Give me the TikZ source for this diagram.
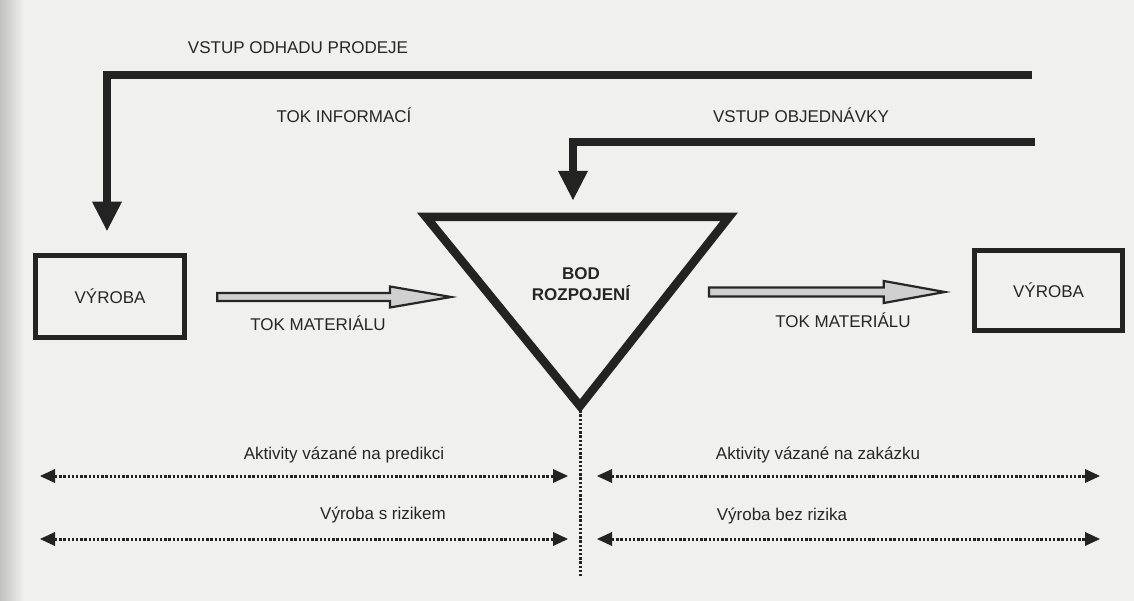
\documentclass[tikz,border=0pt]{standalone}
\usepackage{fontspec}
\setmainfont{Liberation Sans}
\usetikzlibrary{arrows.meta,calc}
\definecolor{paper}{HTML}{F0F0EE}
\definecolor{ink}{HTML}{232323}
\definecolor{txt}{HTML}{262626}
\definecolor{fatfill}{HTML}{D0D0D0}

% wide hollow material-flow arrow: start, tip, shaft half-height, head half-height
\newcommand{\matflow}[4]{%
  \draw[fatarrow] ($(#1)+(0,-#3)$) -- ($(#2)+(-61,-#3)$) -- ($(#2)+(-61,-#4)$)
    -- (#2) -- ($(#2)+(-61,#4)$) -- ($(#2)+(-61,#3)$) -- ($(#1)+(0,#3)$) -- cycle;}

\begin{document}
\begin{tikzpicture}[x=1pt,y=-1pt,
  lbl/.style={text=txt,font=\fontsize{17}{20}\selectfont,inner sep=0pt},
  boldlbl/.style={text=txt,font=\bfseries\fontsize{17}{21}\selectfont,inner sep=0pt,align=center},
  infoline/.style={draw=ink,line width=8pt,line join=miter,
    -{Triangle[length=29pt,width=30pt,line width=0pt]}},
  prodbox/.style={draw=ink,line width=5.5pt,inner sep=0pt,text=txt,
    font=\fontsize{17}{20}\selectfont},
  splitpt/.style={draw=ink,line width=8.5pt,line join=miter},
  fatarrow/.style={draw=txt,line width=2.2pt,fill=fatfill,line join=miter},
  dotline/.style={draw=ink,line width=3pt,dash pattern=on 2.4pt off 1.8pt},
  span/.style={dotline,{Triangle[length=15pt,width=14pt,line width=0pt]}-{Triangle[length=15pt,width=14pt,line width=0pt]}}]

\useasboundingbox (0,0) rectangle (1134,601);
\fill[paper] (0,0) rectangle (1134,601);
\shade[left color=black!24,right color=paper] (0,0) rectangle (24,601);

% production blocks
\node[prodbox,minimum width=149pt,minimum height=82pt] (vyrL) at (110,296.5) {VÝROBA};
\node[prodbox,minimum width=148pt,minimum height=80pt] (vyrR) at (1048.5,290.5) {VÝROBA};

% decoupling point
\coordinate (tl) at (426,217);
\coordinate (tr) at (729,217);
\coordinate (tb) at (580,406);
\draw[splitpt] (tl) -- (tr) -- (tb) -- cycle;
\node[boldlbl] (bod) at (581,284) {BOD\\ROZPOJENÍ};

% information flows
\coordinate (odhadR) at (1032,75);
\coordinate (odhadL) at ($(vyrL.north)+(-3,-22)$);
\draw[infoline] (odhadR) -| (odhadL);
\coordinate (objR) at (1035,142);
\coordinate (objL) at (573,200);
\draw[infoline] (objR) -| (objL);

\node[lbl] (odhad) at (298,48) {VSTUP ODHADU PRODEJE};
\node[lbl] (tokinf) at (344,115) {TOK INFORMACÍ};
\node[lbl] (objed) at (801,115) {VSTUP OBJEDNÁVKY};

% material flows
\coordinate (m1s) at ($(vyrL.east)+(30,0.5)$);
\coordinate (m1e) at (451,297);
\matflow{m1s}{m1e}{4}{10.5}
\coordinate (m2s) at (709,292);
\coordinate (m2e) at ($(vyrR.west)+(-27,1.5)$);
\matflow{m2s}{m2e}{4.5}{11}

\node[lbl] (tm1) at (318,323) {TOK MATERIÁLU};
\node[lbl] (tm2) at (843,320) {TOK MATERIÁLU};

% split line and activity ranges
\coordinate (splitEnd) at (580,577);
\draw[dotline] (tb) -- (splitEnd);

\coordinate (p1a) at (40,476);  \coordinate (p1b) at (568,476);
\coordinate (z1a) at (597,476); \coordinate (z1b) at (1100,476);
\coordinate (p2a) at (40,539);  \coordinate (p2b) at (568,539);
\coordinate (z2a) at (597,539); \coordinate (z2b) at (1100,539);
\draw[span] (p1a) -- (p1b);
\draw[span] (z1a) -- (z1b);
\draw[span] (p2a) -- (p2b);
\draw[span] (z2a) -- (z2b);

\node[lbl] (pred) at (344,455) {Aktivity vázané na predikci};
\node[lbl] (zak) at (818,455) {Aktivity vázané na zakázku};
\node[lbl] (riz) at (383,515) {Výroba s rizikem};
\node[lbl] (bezriz) at (782,516) {Výroba bez rizika};
\end{tikzpicture}
\end{document}
